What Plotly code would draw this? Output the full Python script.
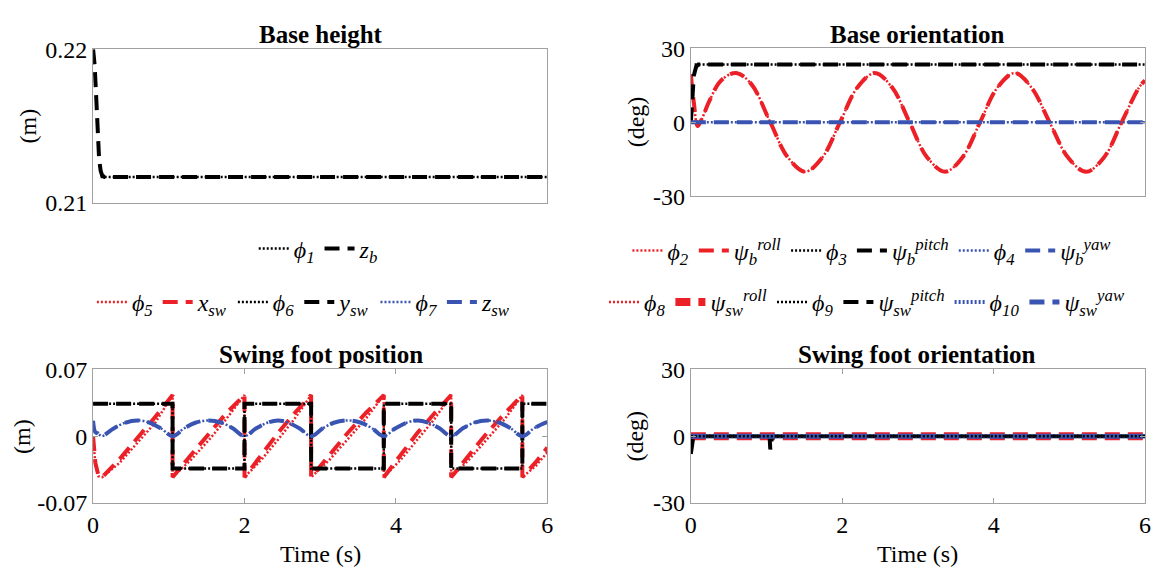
import plotly.graph_objects as go

# ---------------- data ----------------
# Base height
t_zb = [0, 0.02, 0.04, 0.06, 0.08, 0.10, 0.12, 0.15, 6.0]
z_b = [0.2200, 0.2190, 0.2170, 0.2145, 0.2128, 0.2121, 0.2118, 0.2117, 0.2117]
t_phi1 = [0.10, 6.0]
phi1 = [0.2117, 0.2117]

# Base orientation
t_roll = [0, 0.04, 0.09, 0.14, 0.25, 0.40, 0.60, 0.80, 1.05, 1.28, 1.51, 1.74, 1.97,
          2.20, 2.43, 2.66, 2.89, 3.12, 3.36, 3.59, 3.82, 4.05, 4.28, 4.50, 4.74,
          4.98, 5.22, 5.46, 5.69, 5.92, 6.00]
roll_b = [19.5, 8.0, -1.5, 1.0, 9.0, 17.0, 20.0, 15.5, 0.0, -14.1, -20.0, -14.1, 0.0,
          14.1, 20.0, 14.1, 0.0, -14.1, -20.0, -14.1, 0.0, 14.1, 20.0, 14.1, 0.0,
          -14.1, -20.0, -14.1, 0.0, 14.1, 17.0]
t_pitch = [0, 0.02, 0.04, 0.07, 0.10, 6.0]
pitch_b = [0.0, 12.0, 19.0, 22.5, 23.5, 23.5]
t_phi3 = [0.05, 6.0]
phi3 = [23.5, 23.5]
t_yaw = [0, 6.0]
yaw_b = [0.0, 0.0]

# Swing foot position
t_ysw = [0, 1.05, 1.05, 2.00, 2.00, 2.88, 2.88, 3.84, 3.84, 4.73, 4.73, 5.67, 5.67, 6.0]
y_sw = [0.034, 0.034, -0.034, -0.034, 0.034, 0.034, -0.034, -0.034, 0.034, 0.034,
        -0.034, -0.034, 0.034, 0.034]

t_xsw = [0, 0.03, 0.07, 0.12, 0.35, 0.58, 0.82, 1.05,
         1.05, 1.29, 1.53, 1.76, 2.00,
         2.00, 2.22, 2.44, 2.66, 2.88,
         2.88, 3.12, 3.36, 3.60, 3.84,
         3.84, 4.06, 4.28, 4.51, 4.73,
         4.73, 4.96, 5.20, 5.44, 5.67,
         5.67, 5.85, 6.00]
x_sw = [0.0, -0.028, -0.041, -0.043, -0.024, -0.003, 0.020, 0.043,
        -0.043, -0.020, 0.003, 0.024, 0.043,
        -0.043, -0.020, 0.003, 0.024, 0.043,
        -0.043, -0.020, 0.003, 0.024, 0.043,
        -0.043, -0.020, 0.003, 0.024, 0.043,
        -0.043, -0.020, 0.003, 0.024, 0.043,
        -0.043, -0.027, -0.012]
phi5 = [0.0, -0.030, -0.042, -0.043, -0.028, -0.008, 0.014, 0.043,
        -0.043, -0.025, -0.004, 0.018, 0.043,
        -0.043, -0.025, -0.004, 0.018, 0.043,
        -0.043, -0.025, -0.004, 0.018, 0.043,
        -0.043, -0.025, -0.004, 0.018, 0.043,
        -0.043, -0.025, -0.004, 0.018, 0.043,
        -0.043, -0.031, -0.017]

t_zsw = [0, 0.03, 0.06, 0.09, 0.12, 0.27, 0.42, 0.585, 0.75, 0.90, 1.05,
         1.20, 1.35, 1.525, 1.70, 1.85, 2.00,
         2.15, 2.30, 2.44, 2.58, 2.73, 2.88,
         3.03, 3.18, 3.36, 3.54, 3.69, 3.84,
         3.99, 4.14, 4.285, 4.43, 4.58, 4.73,
         4.88, 5.03, 5.20, 5.37, 5.52, 5.67,
         5.82, 5.97, 6.00]
z_sw = [0.016, 0.004, 0.003, 0.001, 0.0, 0.008, 0.014, 0.0165, 0.014, 0.008, 0.0,
        0.008, 0.014, 0.0165, 0.014, 0.008, 0.0,
        0.008, 0.014, 0.0165, 0.014, 0.008, 0.0,
        0.008, 0.014, 0.0165, 0.014, 0.008, 0.0,
        0.008, 0.014, 0.0165, 0.014, 0.008, 0.0,
        0.008, 0.014, 0.0165, 0.014, 0.008, 0.0,
        0.008, 0.014, 0.0145]

# Swing foot orientation
t_flat = [0, 6.0]
zero_line = [0.0, 0.0]
t_pitch_sw = [0, 0.03, 0.06, 1.04, 1.05, 1.07, 1.10, 6.0]
pitch_sw = [-8.0, -1.0, 0.0, 0.0, -6.0, -1.0, 0.0, 0.0]

# tick labels
x_ticks = [0, 2, 4, 6]
h_ticks = [0.21, 0.22]
h_ticktext = ["0.21", "0.22"]
deg_ticks = [-30, 0, 30]
deg_ticktext = ["-30", "0", "30"]
pos_ticks = [-0.07, 0, 0.07]
pos_ticktext = ["-0.07", "0", "0.07"]

# ---------------- style ----------------
RED = "#ec2027"
BLUE = "#3a54b2"
BLACK = "#000000"
FONT = "Liberation Serif, Times New Roman, serif"
DASH = "15px,8px"
DOT = "2px,2px"
W_DASH = 4
W_DOT = 2.5

fig = go.Figure()


def add(x, y, color, dash, width, name, xa, ya, legend, rank, shape="linear"):
    fig.add_trace(go.Scatter(
        x=x, y=y, mode="lines", name=name,
        line=dict(color=color, dash=dash, width=width, shape=shape),
        xaxis=xa, yaxis=ya, legend=legend, legendrank=rank,
        hoverinfo="skip"))


def phi(n):
    return "<i>ϕ<sub>%s</sub></i>" % n


def psi(sub, sup):
    return "<i>ψ<sub>%s</sub><sup>%s</sup></i>" % (sub, sup)


# Base height
add(t_zb, z_b, BLACK, DASH, W_DASH, "<i>z<sub>b</sub></i>", "x", "y", "legend", 2)
add(t_phi1, phi1, BLACK, DOT, W_DOT, phi(1), "x", "y", "legend", 1)

# Base orientation
add(t_roll, roll_b, RED, DASH, W_DASH, psi("b", "roll"), "x2", "y2", "legend2", 2, "spline")
add(t_roll, roll_b, RED, DOT, W_DOT, phi(2), "x2", "y2", "legend2", 1, "spline")
add(t_pitch, pitch_b, BLACK, DASH, W_DASH, psi("b", "pitch"), "x2", "y2", "legend2", 4)
add(t_phi3, phi3, BLACK, DOT, W_DOT, phi(3), "x2", "y2", "legend2", 3)
add(t_yaw, yaw_b, BLUE, DASH, W_DASH, psi("b", "yaw"), "x2", "y2", "legend2", 6)
add(t_yaw, yaw_b, BLUE, DOT, W_DOT, phi(4), "x2", "y2", "legend2", 5)

# Swing foot position
add(t_xsw, x_sw, RED, DASH, W_DASH, "<i>x<sub>sw</sub></i>", "x3", "y3", "legend3", 2)
add(t_xsw, phi5, RED, DOT, W_DOT, phi(5), "x3", "y3", "legend3", 1)
add(t_ysw, y_sw, BLACK, DASH, W_DASH, "<i>y<sub>sw</sub></i>", "x3", "y3", "legend3", 4)
add(t_ysw, y_sw, BLACK, DOT, W_DOT, phi(6), "x3", "y3", "legend3", 3)
add(t_zsw, z_sw, BLUE, DASH, W_DASH, "<i>z<sub>sw</sub></i>", "x3", "y3", "legend3", 6, "spline")
add(t_zsw, z_sw, BLUE, DOT, W_DOT, phi(7), "x3", "y3", "legend3", 5, "spline")

# Swing foot orientation
add(t_flat, zero_line, RED, DASH, 8, psi("sw", "roll"), "x4", "y4", "legend4", 2)
add(t_flat, zero_line, RED, DOT, W_DOT, phi(8), "x4", "y4", "legend4", 1)
add(t_pitch_sw, pitch_sw, BLACK, DASH, W_DASH, psi("sw", "pitch"), "x4", "y4", "legend4", 4)
add(t_flat, zero_line, BLUE, DASH, 5, psi("sw", "yaw"), "x4", "y4", "legend4", 6)
add(t_flat, zero_line, BLUE, DOT, 4, phi(10), "x4", "y4", "legend4", 5)
add(t_flat, zero_line, BLACK, DOT, W_DOT, phi(9), "x4", "y4", "legend4", 3)

W, H = 1156, 580


def px_x(p):
    return p / W


def px_y(p):
    return 1 - p / H


AX_COL = "#a0a0a0"
tickfont = dict(family=FONT, size=24, color="black")


def xax(dom, anchor, labels):
    d = dict(domain=dom, anchor=anchor, range=[0, 6], showgrid=False, zeroline=False,
             showline=True, linecolor=AX_COL, linewidth=1, mirror=True,
             tickfont=tickfont)
    if labels:
        d.update(tickvals=x_ticks, ticks="inside", ticklen=5, tickcolor=AX_COL,
                 mirror="ticks", showticklabels=True)
    else:
        d.update(showticklabels=False, ticks="")
    return d


def yax(dom, anchor, rng, tv, tt):
    return dict(domain=dom, anchor=anchor, range=rng, showgrid=False, zeroline=False,
                showline=True, linecolor=AX_COL, linewidth=1, mirror="ticks",
                ticks="inside", ticklen=5, tickcolor=AX_COL, tickvals=tv, ticktext=tt,
                tickfont=tickfont)


xl = [px_x(88), px_x(547)]
xr = [px_x(692), px_x(1151)]
y_tl = [px_y(199), px_y(38)]
y_tr = [px_y(192), px_y(37)]
y_b = [px_y(513), px_y(373)]

leg_common = dict(orientation="h", xanchor="center", yanchor="middle",
                  bgcolor="rgba(0,0,0,0)", font=dict(family=FONT, size=24, color="black"),
                  traceorder="normal", itemwidth=30)

annotations = []
for txt, cx, cy in [("Base height", 318, 22), ("Base orientation", 921, 22),
                    ("Swing foot position", 318, 358), ("Swing foot orientation", 921, 358)]:
    annotations.append(dict(text="<b>%s</b>" % txt, x=px_x(cx), y=px_y(cy), xref="paper",
                            yref="paper", showarrow=False, xanchor="center", yanchor="middle",
                            font=dict(family=FONT, size=25, color="black")))
for txt, cx, cy in [("(m)", 22, 118), ("(deg)", 636, 114), ("(m)", 16, 443), ("(deg)", 636, 443)]:
    annotations.append(dict(text=txt, x=px_x(cx), y=px_y(cy), xref="paper", yref="paper",
                            showarrow=False, textangle=-90, xanchor="center", yanchor="middle",
                            font=dict(family=FONT, size=24, color="black")))
for cx in [318, 921]:
    annotations.append(dict(text="Time (s)", x=px_x(cx), y=px_y(566), xref="paper", yref="paper",
                            showarrow=False, xanchor="center", yanchor="middle",
                            font=dict(family=FONT, size=24, color="black")))

fig.update_layout(
    width=W, height=H, margin=dict(l=0, r=0, t=0, b=0),
    paper_bgcolor="white", plot_bgcolor="white",
    font=dict(family=FONT, color="black"),
    xaxis=xax(xl, "y", False), yaxis=yax(y_tl, "x", [0.21, 0.22], h_ticks, h_ticktext),
    xaxis2=xax(xr, "y2", False), yaxis2=yax(y_tr, "x2", [-30, 30], deg_ticks, deg_ticktext),
    xaxis3=xax(xl, "y3", True), yaxis3=yax(y_b, "x3", [-0.07, 0.07], pos_ticks, pos_ticktext),
    xaxis4=xax(xr, "y4", True), yaxis4=yax(y_b, "x4", [-30, 30], deg_ticks, deg_ticktext),
    legend=dict(x=px_x(316), y=px_y(247), **leg_common),
    legend2=dict(x=px_x(875), y=px_y(249), **leg_common),
    legend3=dict(x=px_x(301), y=px_y(303), **leg_common),
    legend4=dict(x=px_x(870), y=px_y(303), **leg_common),
    annotations=annotations,
    showlegend=True,
)

fig.write_html("out.html")
